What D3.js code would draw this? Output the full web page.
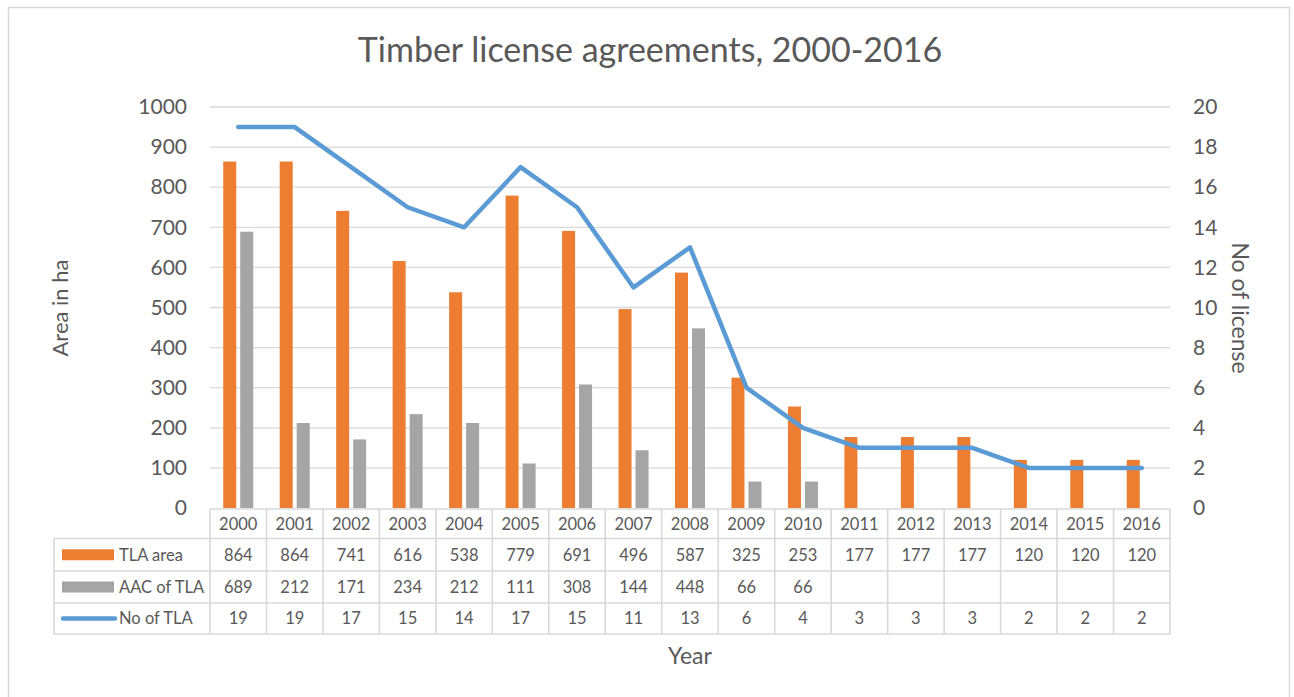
<!DOCTYPE html>
<html>
<head>
<meta charset="utf-8">
<script src="https://cdn.jsdelivr.net/npm/d3@7"></script>
<style>
  html, body { margin: 0; padding: 0; background: #fff; }
  svg { display: block; font-family: Lato, "Open Sans", sans-serif; }
</style>
</head>
<body>
<svg id="chart" width="1294" height="697"></svg>
<script>
const years = ["2000","2001","2002","2003","2004","2005","2006","2007","2008","2009","2010","2011","2012","2013","2014","2015","2016"];
const tlaArea = [864,864,741,616,538,779,691,496,587,325,253,177,177,177,120,120,120];
const aacTLA = [689,212,171,234,212,111,308,144,448,66,66,null,null,null,null,null,null];
const noTLA = [19,19,17,15,14,17,15,11,13,6,4,3,3,3,2,2,2];
const leftTicks = [0,100,200,300,400,500,600,700,800,900,1000];
const rightTicks = [0,2,4,6,8,10,12,14,16,18,20];
const seriesNames = ["TLA area","AAC of TLA","No of TLA"];
const colors = {"TLA area":"#ED7D31","AAC of TLA":"#A5A5A5","No of TLA":"#5B9BD5"};
const title = "Timber license agreements, 2000-2016";

const svg = d3.select("#chart");
const textColor = "#595959";
const gridColor = "#D9D9D9";

// outer border
svg.append("rect").attr("x",8.5).attr("y",7.5).attr("width",1281).attr("height",700)
  .attr("fill","#fff").attr("stroke","#D9D9D9").attr("stroke-width",1.5);

const plot = {left:210, right:1170, top:107, bottom:508};
const x = d3.scaleBand().domain(years).range([plot.left, plot.right]).padding(0);
const yL = d3.scaleLinear().domain([0,1000]).range([plot.bottom, plot.top]);
const yR = d3.scaleLinear().domain([0,20]).range([plot.bottom, plot.top]);
const x1 = d3.scaleBand().domain(["TLA area","AAC of TLA"])
  .range([x.bandwidth()/2 - 15, x.bandwidth()/2 + 15]).paddingInner(0.235).paddingOuter(0);

// title
svg.append("text").attr("x",650).attr("y",62).attr("text-anchor","middle")
  .attr("fill",textColor).style("font-size","34px").text(title);

// gridlines
svg.append("g").selectAll("line").data(leftTicks.filter(d=>d>0)).join("line")
  .attr("x1",plot.left).attr("x2",plot.right)
  .attr("y1",d=>yL(d)).attr("y2",d=>yL(d))
  .attr("stroke",gridColor).attr("stroke-width",1.3);

// left axis labels
const gl = svg.append("g").attr("transform",`translate(187,0)`)
  .call(d3.axisLeft(yL).tickValues(leftTicks).tickFormat(d3.format("d")).tickSize(0).tickPadding(0));
gl.select(".domain").remove();
gl.selectAll("text").attr("fill",textColor).style("font-size","21px").style("font-family","Lato, 'Open Sans', sans-serif");

// right axis labels
const gr = svg.append("g").attr("transform",`translate(1193,0)`)
  .call(d3.axisRight(yR).tickValues(rightTicks).tickFormat(d3.format("d")).tickSize(0).tickPadding(0));
gr.select(".domain").remove();
gr.selectAll("text").attr("fill",textColor).style("font-size","21px").style("font-family","Lato, 'Open Sans', sans-serif");

// axis titles
svg.append("text").attr("transform","translate(68,308) rotate(-90)").attr("text-anchor","middle")
  .attr("fill",textColor).style("font-size","22px").text("Area in ha");
svg.append("text").attr("transform","translate(1232,308) rotate(90)").attr("text-anchor","middle")
  .attr("fill",textColor).style("font-size","23px").text("No of license");
svg.append("text").attr("x",690).attr("y",664).attr("text-anchor","middle")
  .attr("fill",textColor).style("font-size","23px").text("Year");

// bars
const barData = [];
years.forEach((yr,i)=>{
  barData.push({year:yr, key:"TLA area", value:tlaArea[i]});
  if (aacTLA[i] != null) barData.push({year:yr, key:"AAC of TLA", value:aacTLA[i]});
});
svg.append("g").selectAll("rect").data(barData).join("rect")
  .attr("x",d=>x(d.year)+x1(d.key))
  .attr("width",x1.bandwidth())
  .attr("y",d=>yL(d.value))
  .attr("height",d=>yL(0)-yL(d.value))
  .attr("fill",d=>colors[d.key]);

// line
const line = d3.line().x((d,i)=>x(years[i])+x.bandwidth()/2).y(d=>yR(d));
svg.append("path").datum(noTLA).attr("d",line)
  .attr("fill","none").attr("stroke",colors["No of TLA"]).attr("stroke-width",4.5)
  .attr("stroke-linejoin","round").attr("stroke-linecap","round");

// data table
const rowsY = [509, 538.5, 571, 603, 634];
const legendLeft = 54;
const tbl = svg.append("g");
const tableRows = [tlaArea, aacTLA, noTLA];
// horizontal lines
rowsY.forEach((yy,k)=>{
  tbl.append("line").attr("x1", k===0 ? plot.left : legendLeft).attr("x2",plot.right)
    .attr("y1",yy).attr("y2",yy).attr("stroke",gridColor).attr("stroke-width",1.6);
});
// vertical lines
const colEdges = years.map(yr=>x(yr)).concat([plot.right]);
colEdges.forEach(xx=>{
  tbl.append("line").attr("x1",xx).attr("x2",xx).attr("y1",rowsY[0]).attr("y2",rowsY[4])
    .attr("stroke",gridColor).attr("stroke-width",1.6);
});
tbl.append("line").attr("x1",legendLeft).attr("x2",legendLeft).attr("y1",rowsY[1]).attr("y2",rowsY[4])
  .attr("stroke",gridColor).attr("stroke-width",1.6);

// header years
tbl.selectAll("text.yr").data(years).join("text").attr("class","yr")
  .attr("x",d=>x(d)+x.bandwidth()/2).attr("y",(rowsY[0]+rowsY[1])/2)
  .attr("dy","0.35em").attr("text-anchor","middle").attr("fill",textColor)
  .style("font-size","16.5px").text(d=>d);

tableRows.forEach((vals,r)=>{
  const cy = (rowsY[r+1]+rowsY[r+2])/2;
  tbl.append("g").selectAll("text").data(vals.map((v,i)=>({v, yr:years[i]})).filter(d=>d.v!=null))
    .join("text").attr("x",d=>x(d.yr)+x.bandwidth()/2).attr("y",cy).attr("dy","0.35em")
    .attr("text-anchor","middle").attr("fill",textColor).style("font-size","16.5px").text(d=>d.v);
  const name = seriesNames[r];
  if (r < 2) {
    tbl.append("rect").attr("x",62).attr("y",cy-5.5).attr("width",52).attr("height",11).attr("fill",colors[name]);
  } else {
    tbl.append("line").attr("x1",63).attr("x2",115).attr("y1",cy).attr("y2",cy)
      .attr("stroke",colors[name]).attr("stroke-width",4.5).attr("stroke-linecap","round");
  }
  tbl.append("text").attr("x",119).attr("y",cy).attr("dy","0.35em").attr("fill",textColor)
    .style("font-size","16.5px").text(name);
});
</script>
</body>
</html>
